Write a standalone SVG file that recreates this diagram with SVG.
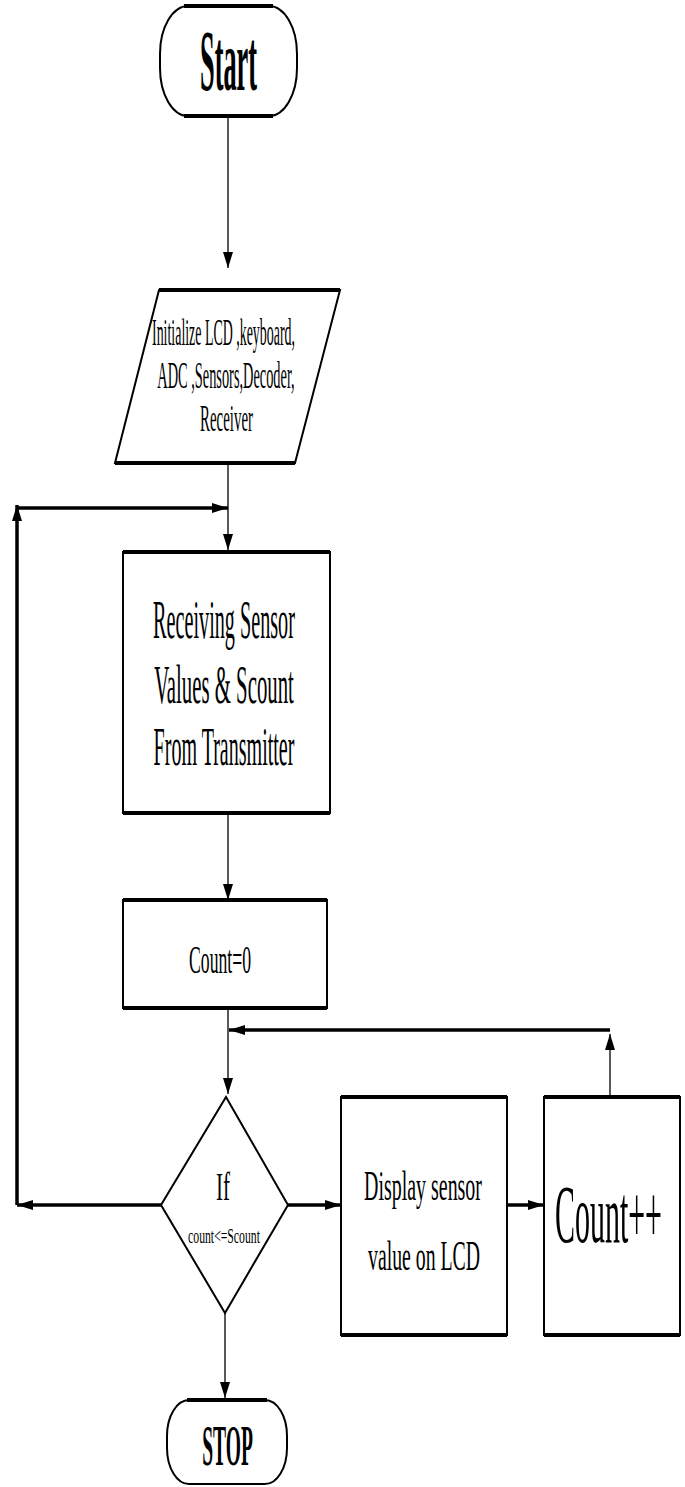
<svg xmlns="http://www.w3.org/2000/svg" width="685" height="1487" viewBox="0 0 685 1487">
<style>
.sh{fill:#fff;stroke:#000;stroke-width:2}
.edge{fill:none;stroke:#000;stroke-width:4}
.t{font-family:"Liberation Serif","Times New Roman",serif;fill:#000;text-anchor:middle}
.b{font-weight:bold}
.thin{fill:none;stroke:#000;stroke-width:1.3}
.thick{fill:none;stroke:#000;stroke-width:3.5}
</style>
<defs>
<marker id="ah" viewBox="0 0 16 10" refX="16" refY="5" markerWidth="16" markerHeight="10" markerUnits="userSpaceOnUse" orient="auto"><path d="M0,0 L16,5 L0,10 z" fill="#000"/></marker>
</defs>
<rect width="685" height="1487" fill="#fff"/>
<g id="connectors">
<path class="thin" d="M228,116 V268" marker-end="url(#ah)"/>
<path class="thin" d="M228,463 V550" marker-end="url(#ah)"/>
<path class="thick" d="M17,508 H228" marker-end="url(#ah)"/>
<path class="thick" d="M17,1205 V505" stroke-width="2.5" marker-end="url(#ah)"/>
<path class="thin" d="M228,813 V900" marker-end="url(#ah)"/>
<path class="thin" d="M228,1008 V1094" marker-end="url(#ah)"/>
<path class="thin" d="M610,1097 V1034" stroke-width="1.8" marker-end="url(#ah)"/>
<path class="thick" d="M610,1030 H229" marker-end="url(#ah)"/>
<path class="thick" d="M161,1205 H17" marker-end="url(#ah)"/>
<path class="thick" d="M288,1205 H341" marker-end="url(#ah)"/>
<path class="thick" d="M507,1205 H544" marker-end="url(#ah)"/>
<path class="thin" d="M225,1313 V1398" marker-end="url(#ah)"/>
</g>
<g id="start">
<rect class="sh" x="160" y="6" width="137" height="110" rx="28" ry="48"/>
<path class="edge" d="M184,6 H273 M184,116 H273"/>
<text class="t b" transform="translate(228.5,90) scale(0.306,1)" font-size="86">Start</text>
</g>
<g id="init">
<polygon class="sh" points="159,290 340,290 295,463 115,463"/>
<path class="edge" d="M159,290 H340 M115,463 H295"/>
<text class="t" transform="translate(223.5,345) scale(0.3662,1)" font-size="38">Initialize LCD ,keyboard,</text>
<text class="t" transform="translate(226,388) scale(0.378,1)" font-size="38">ADC ,Sensors,Decoder,</text>
<text class="t" transform="translate(226.5,431) scale(0.392,1)" font-size="38">Receiver</text>
</g>
<g id="receive">
<rect class="sh" x="123" y="552" width="207" height="261"/>
<path class="edge" d="M123,552 H330 M123,813 H330"/>
<text class="t" transform="translate(224,638) scale(0.374,1)" font-size="54">Receiving Sensor</text>
<text class="t" transform="translate(224,703) scale(0.385,1)" font-size="54">Values &amp; Scount</text>
<text class="t" transform="translate(224,765) scale(0.371,1)" font-size="54">From Transmitter</text>
</g>
<g id="count0">
<rect class="sh" x="123" y="900" width="204" height="108"/>
<path class="edge" d="M123,900 H327 M123,1008 H327"/>
<text class="t" transform="translate(220,973) scale(0.4416,1)" font-size="40">Count=0</text>
</g>
<g id="decision">
<polygon class="sh" points="226,1097 288,1205 225,1313 161,1205"/>
<text class="t" transform="translate(223,1200) scale(0.526,1)" font-size="40">If</text>
<text class="t" transform="translate(224,1243) scale(0.587,1)" font-size="20">count&lt;=Scount</text>
</g>
<g id="display">
<rect class="sh" x="341" y="1097" width="166" height="238"/>
<path class="edge" d="M341,1097 H507 M341,1335 H507"/>
<text class="t" transform="translate(423,1200) scale(0.475,1)" font-size="42">Display sensor</text>
<text class="t" transform="translate(424,1270) scale(0.4706,1)" font-size="42">value on LCD</text>
</g>
<g id="countpp">
<rect class="sh" x="544" y="1097" width="136" height="238"/>
<path class="edge" d="M544,1097 H680 M544,1335 H680"/>
<text class="t" transform="translate(608.5,1242) scale(0.365,1)" font-size="82">Count++</text>
</g>
<g id="stop">
<rect class="sh" x="167" y="1400" width="120" height="84" rx="22" ry="36"/>
<path class="edge" d="M187,1400 H267"/>
<text class="t b" transform="translate(227.5,1465) scale(0.3486,1)" font-size="56">STOP</text>
</g>
</svg>
